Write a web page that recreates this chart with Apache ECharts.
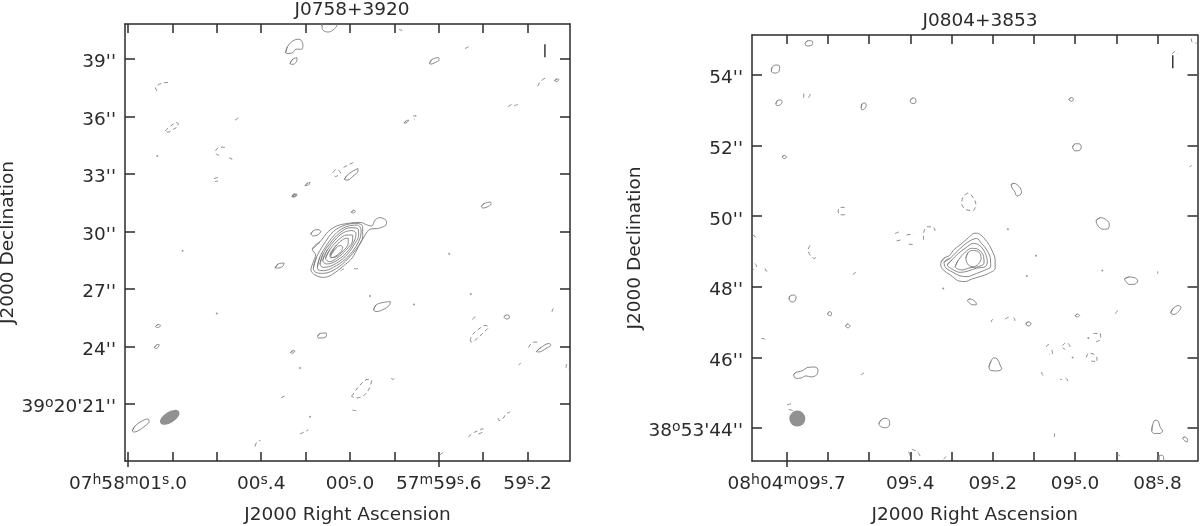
<!DOCTYPE html>
<html>
<head>
<meta charset="utf-8">
<style>
    html, body { margin: 0; padding: 0; background: #fff; }
    #chart { width: 1200px; height: 526px; }
</style>
<script src="https://cdn.jsdelivr.net/npm/echarts@6/dist/echarts.min.js"></script>
</head>
<body>
<div id="chart"></div>
<script>
// tick values: RA in seconds (left: relative to 07h58m00s), Dec in arcsec
const leftRaTicks = [1.0, 0.8, 0.6, 0.4, 0.2, 0, -0.2, -0.4, -0.6, -0.8];
const leftRaLongTicks = [1.0, -0.4];
const leftRaLabelValues = [1.0, 0.4, 0, -0.4, -0.8];
const leftRaLabels = ["07{u|h}58{u|m}01{u|s}.0", "00{u|s}.4", "00{u|s}.0", "57{u|m}59{u|s}.6", "59{u|s}.2"];
const leftDecTicks = [39, 36, 33, 30, 27, 24, 21];
const leftDecLabels = ["39''", "36''", "33''", "30''", "27''", "24''", "39{u|o}20'21''"];

const rightRaTicks = [9.7, 9.6, 9.5, 9.4, 9.3, 9.2, 9.1, 9.0, 8.9, 8.8];
const rightRaLongTicks = [9.7];
const rightRaLabelValues = [9.7, 9.4, 9.2, 9.0, 8.8];
const rightRaLabels = ["08{u|h}04{u|m}09{u|s}.7", "09{u|s}.4", "09{u|s}.2", "09{u|s}.0", "08{u|s}.8"];
const rightDecTicks = [54, 52, 50, 48, 46, 44];
const rightDecLabels = ["54''", "52''", "50''", "48''", "46''", "38{u|o}53'44''"];

// J0758+3920 positive contours [RA s, Dec "]
const leftSolid = [
    [[.170,29.07],[.135,29.47],[.098,30.00],[.060,30.29],[.008,30.43],[-.045,30.48],[-.078,30.34],[-.098,30.29],[-.113,30.60],[-.135,30.73],[-.165,30.52],[-.162,30.34],[-.128,30.17],[-.090,30.12],[-.068,29.82],[-.038,29.21],[-.008,28.60],[.030,28.20],[.083,27.74],[.120,27.61],[.158,27.74],[.176,28.00],[.165,28.43],[.155,28.78]],
    [[.165,28.08],[.150,28.69],[.120,29.30],[.075,30.00],[.022,30.34],[-.030,30.43],[-.057,30.26],[-.057,29.73],[-.030,29.13],[.008,28.60],[.060,28.08],[.120,27.82],[.153,27.86]],
    [[.147,28.13],[.135,28.69],[.105,29.30],[.060,29.94],[.015,30.26],[-.033,30.34],[-.050,30.08],[-.045,29.65],[-.018,29.07],[.022,28.55],[.075,28.13],[.120,27.96],[.143,28.00]],
    [[.135,28.31],[.120,28.87],[.090,29.39],[.045,29.94],[.000,30.20],[-.033,30.17],[-.039,29.82],[-.018,29.30],[.022,28.69],[.075,28.26],[.120,28.13]],
    [[.123,28.48],[.102,29.04],[.068,29.56],[.030,29.94],[-.008,30.05],[-.027,29.91],[-.018,29.47],[.018,28.87],[.068,28.43],[.105,28.31]],
    [[.110,28.60],[.090,29.07],[.053,29.56],[.015,29.82],[-.012,29.82],[-.012,29.56],[.015,29.07],[.060,28.60],[.093,28.43]],
    [[.090,28.78],[.060,29.30],[.030,29.60],[.008,29.65],[.008,29.39],[.030,29.00],[.068,28.66],[.087,28.64]],
    [[.087,28.74],[.068,29.07],[.045,29.27],[.033,29.18],[.041,28.95],[.063,28.73],[.083,28.64]],
    [[.176,29.87],[.165,30.05],[.143,30.10],[.132,30.01],[.143,29.84],[.165,29.77]],
    [[-.006,31.00],[-.015,31.11],[-.024,31.07],[-.018,30.97]],
    [[.261,31.82],[.254,31.96],[.245,31.94],[.251,31.80]],
    [[.338,28.10],[.324,28.31],[.297,28.36],[.302,28.20],[.320,28.10]],
    [[.290,39.33],[.282,39.64],[.263,39.90],[.236,40.03],[.225,40.02],[.212,39.73],[.218,39.51],[.243,39.52],[.257,39.34],[.275,39.29]],
    [[.270,38.77],[.257,39.00],[.239,39.08],[.239,38.95],[.255,38.73],[.266,38.73]],
    [[.126,40.93],[.126,40.72],[.122,40.51],[.099,40.41],[.077,40.51],[.059,40.78],[.059,40.93]],
    [[.257,31.83],[.248,31.96],[.239,31.96],[.243,31.83]],
    [[.876,25.05],[.865,25.15],[.853,25.10],[.865,24.99]],
    [[.881,23.95],[.872,24.08],[.860,24.11],[.863,23.98],[.874,23.90]],
    [[.980,19.60],[.968,19.86],[.941,20.09],[.910,20.22],[.905,20.09],[.923,19.86],[.955,19.60],[.973,19.54]],
    [[.268,23.69],[.257,23.79],[.248,23.77],[.257,23.66]],
    [[-.358,38.77],[-.369,38.98],[-.399,39.08],[-.401,38.95],[-.383,38.82],[-.365,38.74]],
    [[-.921,37.88],[-.932,37.96],[-.941,37.93],[-.932,37.83]],
    [[-.243,35.66],[-.252,35.77],[-.264,35.82],[-.257,35.69]],
    [[.203,32.40],[.191,32.53],[.180,32.56],[.187,32.43]],
    [[.025,32.72],[.014,32.92],[-.009,33.13],[-.036,33.29],[-.036,33.16],[-.014,32.90],[.009,32.69]],
    [[-.592,31.31],[-.604,31.46],[-.633,31.54],[-.635,31.44],[-.617,31.28],[-.599,31.23]],
    [[-.106,25.91],[-.117,26.17],[-.149,26.30],[-.182,26.35],[-.176,26.14],[-.149,25.93],[-.122,25.83]],
    [[.146,24.55],[.135,24.68],[.108,24.71],[.106,24.55],[.126,24.45],[.142,24.45]],
    [[-.694,25.54],[-.703,25.65],[-.716,25.62],[-.718,25.49],[-.705,25.44]],
    [[-.840,23.74],[-.860,23.95],[-.896,24.16],[-.905,24.08],[-.883,23.90],[-.851,23.72]]
];
// J0758+3920 negative contours
const leftDashed = [
    [[.869,37.33],[.876,37.49],[.865,37.65],[.842,37.75],[.820,37.78],[.815,37.70]],
    [[.833,35.25],[.802,35.56],[.779,35.69],[.773,35.56],[.793,35.35],[.820,35.19],[.833,35.25]],
    [[.518,35.82],[.505,35.92],[.505,36.03]],
    [[.563,34.39],[.586,34.41],[.604,34.25],[.606,34.10],[.590,33.97]],
    [[.545,33.84],[.532,33.79],[.534,33.63]],
    [[.595,32.82],[.613,32.74],[.608,32.61],[.595,32.64]],
    [[.428,18.79],[.419,19.02],[.403,19.10]],
    [[.311,21.32],[.297,21.40],[.284,21.34]],
    [[.225,19.44],[.207,19.54],[.187,19.65]],
    [[.043,27.95],[.029,28.05],[.018,28.08]],
    [[-.018,28.08],[-.028,28.05],[-.040,28.12]],
    [[-.221,40.54],[-.234,40.49],[-.225,40.38]],
    [[-.518,39.55],[-.536,39.65]],
    [[-.845,37.59],[-.860,37.85],[-.881,38.01],[-.883,37.91]],
    [[-.712,36.52],[-.734,36.68]],
    [[-.739,36.55],[-.757,36.65]],
    [[-.284,36.03],[-.297,36.05],[-.297,35.92],[-.288,35.85]],
    [[.077,33.08],[.063,33.24],[.043,33.08],[.065,32.87],[.077,33.08]],
    [[.029,33.34],[.009,33.47],[-.014,33.60],[-.011,33.42]],
    [[-.552,25.41],[-.563,25.54],[-.574,25.54]],
    [[-.541,24.29],[-.550,24.60],[-.581,24.92],[-.608,25.10],[-.624,25.02],[-.604,24.76],[-.572,24.42],[-.550,24.24],[-.541,24.29]],
    [[-.910,25.80],[-.914,25.96],[-.928,26.06]],
    [[-.804,23.95],[-.815,24.13],[-.833,24.24],[-.847,24.21]],
    [[-.759,23.04],[-.770,23.14]],
    [[-.977,23.09],[-.973,22.93],[-.991,22.75]],
    [[-.185,22.36],[-.194,22.28],[-.200,22.41]],
    [[-.007,21.40],[-.027,21.73],[-.054,22.10],[-.077,22.28],[-.097,22.23],[-.086,21.79],[-.059,21.42],[-.027,21.32],[-.007,21.40]],
    [[-.011,20.69],[-.023,20.66],[-.034,20.79]],
    [[-.534,19.28],[-.547,19.44],[-.572,19.59],[-.599,19.72],[-.599,19.57],[-.568,19.41]],
    [[-.667,20.27],[-.671,20.14],[-.689,20.25],[-.703,20.48],[-.721,20.59]],
    [[-.405,18.34],[-.417,18.45],[-.430,18.32]]
];
const leftSpecks = [[.868,33.94],[.754,29.00],[.600,25.73],[.225,22.88],[.180,20.34],[-.447,28.84],[-.090,26.64],[-.288,26.20],[-.544,26.74]];
const leftBeam = [[.812, 20.31]];
const leftBar = [[-.878,39.77],[-.878,39.09]];

// J0804+3853 positive contours
const rightSolid = [
    [[9.325,48.71],[9.316,48.83],[9.305,48.88],[9.295,49.04],[9.279,49.19],[9.259,49.39],[9.243,49.52],[9.231,49.49],[9.214,49.28],[9.202,49.04],[9.194,48.76],[9.194,48.53],[9.210,48.38],[9.231,48.29],[9.251,48.22],[9.267,48.15],[9.283,48.17],[9.303,48.34],[9.320,48.48],[9.326,48.62]],
    [[9.318,48.70],[9.303,48.81],[9.291,48.95],[9.271,49.17],[9.251,49.33],[9.239,49.37],[9.227,49.23],[9.214,49.04],[9.205,48.76],[9.205,48.57],[9.218,48.48],[9.239,48.38],[9.263,48.29],[9.279,48.31],[9.299,48.43],[9.314,48.54]],
    [[9.310,48.62],[9.299,48.76],[9.283,48.95],[9.267,49.09],[9.247,49.23],[9.231,49.17],[9.218,48.95],[9.213,48.71],[9.218,48.57],[9.239,48.53],[9.259,48.45],[9.279,48.41],[9.295,48.48]],
    [[9.291,48.57],[9.283,48.76],[9.267,48.98],[9.251,49.09],[9.235,49.06],[9.222,48.86],[9.221,48.67],[9.235,48.57],[9.255,48.54],[9.275,48.48]],
    [[9.265,48.81],[9.259,48.98],[9.247,49.03],[9.233,48.98],[9.228,48.81],[9.235,48.64],[9.247,48.57],[9.259,48.62]],
    [[9.655,54.90],[9.648,54.97],[9.638,54.96],[9.637,54.87],[9.646,54.82],[9.653,54.83]],
    [[9.737,54.10],[9.735,54.22],[9.726,54.28],[9.717,54.25],[9.718,54.11],[9.728,54.05]],
    [[9.726,53.18],[9.722,53.28],[9.714,53.29],[9.711,53.23],[9.716,53.15],[9.723,53.13]],
    [[9.519,53.06],[9.517,53.18],[9.510,53.21],[9.507,53.13],[9.511,53.04],[9.517,53.01]],
    [[9.400,53.28],[9.394,53.35],[9.387,53.32],[9.386,53.23],[9.393,53.19],[9.399,53.22]],
    [[9.711,51.68],[9.706,51.72],[9.700,51.68],[9.706,51.63]],
    [[9.694,47.66],[9.692,47.74],[9.682,47.77],[9.677,47.71],[9.680,47.60],[9.687,47.57]],
    [[9.601,47.23],[9.596,47.30],[9.591,47.26],[9.593,47.18]],
    [[9.557,46.89],[9.552,46.95],[9.546,46.89],[9.551,46.84]],
    [[9.683,45.51],[9.677,45.58],[9.663,45.62],[9.648,45.72],[9.631,45.73],[9.624,45.65],[9.627,45.51],[9.641,45.45],[9.653,45.48],[9.665,45.42],[9.677,45.41]],
    [[9.476,44.12],[9.471,44.23],[9.461,44.28],[9.451,44.22],[9.450,44.09],[9.460,44.01],[9.471,44.04]],
    [[9.015,53.30],[9.010,53.36],[9.004,53.32],[9.008,53.25]],
    [[9.006,51.96],[9.000,52.05],[8.990,52.05],[8.985,51.96],[8.990,51.86],[9.000,51.85]],
    [[9.155,50.90],[9.148,50.93],[9.133,50.80],[9.130,50.66],[9.141,50.57],[9.147,50.71],[9.153,50.80]],
    [[8.949,49.87],[8.939,49.96],[8.927,49.92],[8.917,49.78],[8.920,49.64],[8.932,49.63],[8.944,49.72]],
    [[8.880,48.22],[8.869,48.28],[8.854,48.25],[8.848,48.17],[8.857,48.07],[8.869,48.07],[8.876,48.14]],
    [[9.261,47.62],[9.255,47.66],[9.243,47.59],[9.239,47.50],[9.248,47.49],[9.257,47.55]],
    [[9.120,46.95],[9.114,47.01],[9.107,46.97],[9.112,46.89]],
    [[9.000,47.18],[8.995,47.23],[8.989,47.19],[8.994,47.15]],
    [[8.768,47.26],[8.762,47.39],[8.749,47.47],[8.743,47.42],[8.749,47.30],[8.760,47.22]],
    [[9.209,45.73],[9.204,45.90],[9.197,45.99],[9.189,45.96],[9.182,45.79],[9.178,45.68],[9.189,45.62],[9.204,45.63]],
    [[8.814,43.92],[8.812,44.09],[8.806,44.22],[8.799,44.21],[8.794,44.04],[8.788,43.92],[8.794,43.85],[8.808,43.85]],
    [[8.739,43.72],[8.734,43.75],[8.727,43.67],[8.728,43.61],[8.734,43.64]],
    [[8.797,43.02],[8.796,43.22],[8.788,43.23],[8.785,43.13],[8.789,43.02]]
];
// J0804+3853 negative contours
const rightDashed = [
    [[9.658,53.47],[9.659,53.33]],
    [[9.642,53.46],[9.647,53.35]],
    [[9.559,50.25],[9.570,50.25],[9.575,50.15],[9.570,50.04],[9.558,50.04]],
    [[9.783,49.47],[9.776,49.41],[9.777,49.33]],
    [[9.643,49.17],[9.648,49.05],[9.643,48.90],[9.632,48.80],[9.629,48.93]],
    [[9.437,49.51],[9.424,49.57]],
    [[9.433,49.30],[9.419,49.34]],
    [[9.409,49.47],[9.391,49.50]],
    [[9.404,49.21],[9.387,49.19]],
    [[9.368,49.33],[9.367,49.55],[9.359,49.70],[9.347,49.70],[9.340,49.61],[9.347,49.51]],
    [[9.777,48.66],[9.773,48.59],[9.782,48.48]],
    [[9.752,48.52],[9.750,48.45],[9.743,48.45]],
    [[9.532,48.41],[9.538,48.36],[9.530,48.31]],
    [[9.761,46.54],[9.752,46.51],[9.756,46.44]],
    [[9.512,45.56],[9.519,45.51],[9.512,45.44]],
    [[9.699,44.66],[9.685,44.70]],
    [[9.695,44.53],[9.685,44.50]],
    [[9.404,43.33],[9.400,43.21]],
    [[9.396,43.40],[9.383,43.33],[9.376,43.21]],
    [[8.718,55.03],[8.716,54.93],[8.705,54.90]],
    [[8.765,54.59],[8.758,54.66],[8.750,54.59]],
    [[8.722,51.39],[8.717,51.45]],
    [[9.260,50.66],[9.272,50.55],[9.275,50.35],[9.265,50.19],[9.248,50.16],[9.241,50.35],[9.250,50.57],[9.260,50.66]],
    [[8.800,48.44],[8.799,48.37]],
    [[9.199,47.08],[9.204,47.03],[9.199,46.98]],
    [[9.170,47.09],[9.160,47.15]],
    [[9.149,47.13],[9.146,47.06],[9.153,46.99]],
    [[8.896,47.32],[8.902,47.25],[8.898,47.18]],
    [[8.956,46.68],[8.939,46.68],[8.938,46.53],[8.951,46.43]],
    [[8.973,46.00],[8.967,46.12],[8.956,46.10],[8.947,45.99],[8.947,45.88],[8.961,45.90]],
    [[9.024,46.41],[9.033,46.30],[9.024,46.23]],
    [[9.017,46.40],[9.012,46.30],[9.016,46.22]],
    [[9.063,46.38],[9.070,46.30],[9.066,46.22]],
    [[9.056,46.22],[9.055,46.10],[9.063,46.09]],
    [[9.081,45.59],[9.080,45.52],[9.073,45.48]],
    [[9.036,45.38],[9.032,45.38]],
    [[9.023,45.42],[9.018,45.35],[9.024,45.28]],
    [[9.050,43.85],[9.050,43.75]],
    [[8.898,43.27],[8.891,43.21],[8.898,43.14]],
    [[9.319,43.12],[9.313,43.20]]
];
const rightSpecks = [[9.163,49.63],[9.095,48.88],[9.117,48.31],[8.934,48.46],[9.320,47.95],[9.006,46.00],[8.968,46.55]];
const rightBeam = [[9.674, 44.27]];
const rightBar = [[8.763,54.56],[8.763,54.19]];

const INK = "#2b2b2b";
const CONTOUR = "#7c7c7c";
const FONT = "DejaVu Sans";
const FONT_SIZE = 18.5;

const chart = echarts.init(document.getElementById("chart"));

// closed contours run on past their start so the smoothing has no corner there,
// null points break the line between contours
function joinRings(rings) {
    return rings.flatMap((r) => r.concat([r[0], r[1], [null, null]]));
}
function joinArcs(arcs) {
    return arcs.flatMap((a) => a.concat([[null, null]]));
}

const richText = {
    u: { fontFamily: FONT, fontSize: 14, color: INK, verticalAlign: "top", lineHeight: 22 }
};

function xAxes(p) {
    const base = {
        type: "value", gridIndex: p.grid, min: p.xMin, max: p.xMax, inverse: true,
        splitLine: { show: false }, axisLabel: { show: false }
    };
    const line = { show: true, onZero: false, lineStyle: { color: INK, width: 1.5 } };
    return [
        Object.assign({}, base, {
            position: "bottom",
            name: "J2000 Right Ascension", nameLocation: "middle", nameGap: p.nameGapX,
            nameTextStyle: { fontFamily: FONT, fontSize: FONT_SIZE, color: INK },
            axisLine: line,
            axisTick: { show: true, inside: true, length: 9, lineStyle: { color: INK, width: 1.5 }, customValues: p.raTicks },
            axisLabel: {
                show: true, margin: 12, customValues: p.raLabelValues, hideOverlap: false,
                showMinLabel: true, showMaxLabel: true,
                fontFamily: FONT, fontSize: FONT_SIZE, color: INK, rich: richText,
                formatter: (v) => p.raLabels[p.raLabelValues.findIndex((x) => Math.abs(x - v) < 1e-6)]
            }
        }),
        Object.assign({}, base, {
            position: "top", axisLine: line,
            axisTick: { show: true, inside: true, length: 9, lineStyle: { color: INK, width: 1.5 }, customValues: p.raTicks }
        }),
        Object.assign({}, base, {
            position: "bottom", axisLine: { show: false },
            axisTick: { show: true, inside: false, length: 6, lineStyle: { color: INK, width: 1.5 }, customValues: p.raLongTicks }
        })
    ];
}

function yAxes(p) {
    const base = {
        type: "value", gridIndex: p.grid, min: p.yMin, max: p.yMax,
        splitLine: { show: false }, axisLabel: { show: false }
    };
    const line = { show: true, onZero: false, lineStyle: { color: INK, width: 1.5 } };
    const ticks = { show: true, inside: true, length: 10, lineStyle: { color: INK, width: 1.5 }, customValues: p.decTicks };
    return [
        Object.assign({}, base, {
            position: "left",
            name: "J2000 Declination", nameLocation: "middle", nameGap: p.nameGapY, nameRotate: 90,
            nameTextStyle: { fontFamily: FONT, fontSize: FONT_SIZE, color: INK },
            axisLine: line, axisTick: ticks,
            axisLabel: {
                show: true, margin: 9, customValues: p.decTicks, hideOverlap: false,
                showMinLabel: true, showMaxLabel: true, padding: [7, 0, 0, 0],
                fontFamily: FONT, fontSize: FONT_SIZE, color: INK, rich: richText,
                formatter: (v) => p.decLabels[p.decTicks.indexOf(v)]
            }
        }),
        Object.assign({}, base, { position: "right", axisLine: line, axisTick: ticks })
    ];
}

function panelSeries(p, xi, yi) {
    const ax = { xAxisIndex: xi, yAxisIndex: yi, showSymbol: false, silent: true, animation: false };
    return [
        Object.assign({}, ax, {
            type: "line", smooth: 0.35, data: joinRings(p.solid),
            lineStyle: { color: CONTOUR, width: 0.9 }
        }),
        Object.assign({}, ax, {
            type: "line", smooth: 0.35, data: joinArcs(p.dashed),
            lineStyle: { color: CONTOUR, width: 0.9, type: [4, 3] }
        }),
        Object.assign({}, ax, {
            type: "line", data: p.bar,
            lineStyle: { color: INK, width: 1.4 }
        }),
        Object.assign({}, ax, {
            type: "scatter", data: p.specks, symbolSize: 2,
            itemStyle: { color: CONTOUR }
        }),
        Object.assign({}, ax, {
            type: "scatter", data: p.beam, symbolSize: p.beamSize, symbolRotate: p.beamRotate,
            itemStyle: { color: "#757575" }
        })
    ];
}

const leftPanel = {
    grid: 0, xMin: -0.991, xMax: 1.0135, yMin: 18.03, yMax: 40.83,
    raTicks: leftRaTicks, raLongTicks: leftRaLongTicks, raLabelValues: leftRaLabelValues, raLabels: leftRaLabels,
    decTicks: leftDecTicks, decLabels: leftDecLabels,
    nameGapX: 45, nameGapY: 106,
    solid: leftSolid, dashed: leftDashed, specks: leftSpecks, beam: leftBeam, bar: leftBar,
    beamSize: [22, 11], beamRotate: 32
};
const rightPanel = {
    grid: 1, xMin: 8.703, xMax: 9.784, yMin: 43.07, yMax: 55.13,
    raTicks: rightRaTicks, raLongTicks: rightRaLongTicks, raLabelValues: rightRaLabelValues, raLabels: rightRaLabels,
    decTicks: rightDecTicks, decLabels: rightDecLabels,
    nameGapX: 45, nameGapY: 106,
    solid: rightSolid, dashed: rightDashed, specks: rightSpecks, beam: rightBeam, bar: rightBar,
    beamSize: 16, beamRotate: 0
};

chart.setOption({
    animation: false,
    backgroundColor: "#fff",
    title: [
        { text: "J0758+3920", left: 347, top: -4, textAlign: "center", textStyle: { fontFamily: FONT, fontSize: FONT_SIZE, fontWeight: "normal", color: INK } },
        { text: "J0804+3853", left: 975, top: 7, textAlign: "center", textStyle: { fontFamily: FONT, fontSize: FONT_SIZE, fontWeight: "normal", color: INK } }
    ],
    grid: [
        { left: 125, top: 24, width: 445, height: 437, outerBoundsMode: "none" },
        { left: 752, top: 35, width: 445.5, height: 426, outerBoundsMode: "none" }
    ],
    xAxis: xAxes(leftPanel).concat(xAxes(rightPanel)),
    yAxis: yAxes(leftPanel).concat(yAxes(rightPanel)),
    series: panelSeries(leftPanel, 0, 0).concat(panelSeries(rightPanel, 3, 2))
});
</script>
</body>
</html>
